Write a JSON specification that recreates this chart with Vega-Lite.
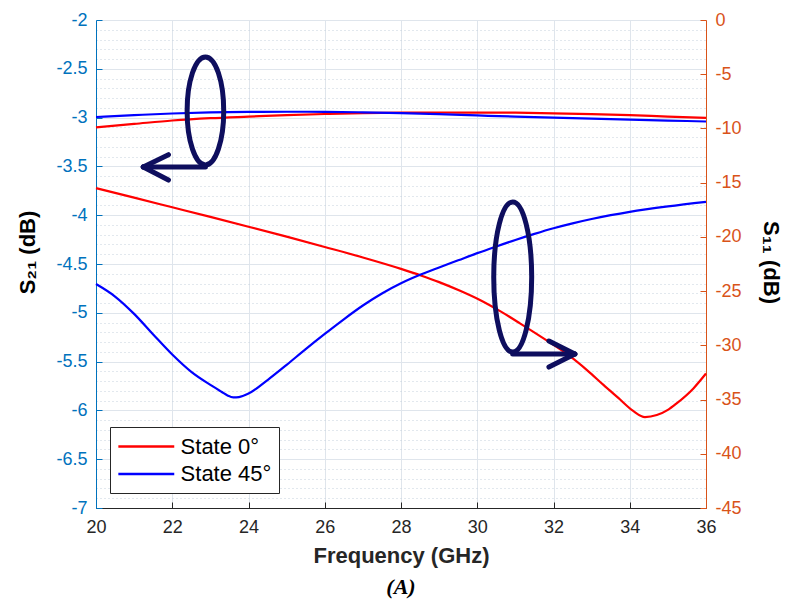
{
  "$schema": "https://vega.github.io/schema/vega-lite/v6.json",
  "width": 610,
  "height": 488,
  "autosize": {"type": "none"},
  "padding": {"left": 96, "top": 20, "right": 79, "bottom": 93},
  "background": "white",
  "config": {
    "font": "Liberation Sans",
    "view": {"stroke": null},
    "axis": {"labelFontSize": 18, "labelFont": "Liberation Sans"}
  },
  "title": {
    "text": "(A)",
    "orient": "bottom",
    "anchor": "middle",
    "font": "Liberation Serif",
    "fontSize": 22,
    "fontStyle": "italic",
    "fontWeight": "bold",
    "color": "#000000",
    "offset": 11
  },
  "datasets": {
    "s21": [
      {"f": 20, "v": -3.10, "state": "State 0°"},
      {"f": 21, "v": -3.065, "state": "State 0°"},
      {"f": 22, "v": -3.03, "state": "State 0°"},
      {"f": 23, "v": -3.006, "state": "State 0°"},
      {"f": 24, "v": -2.99, "state": "State 0°"},
      {"f": 25, "v": -2.975, "state": "State 0°"},
      {"f": 26, "v": -2.963, "state": "State 0°"},
      {"f": 27, "v": -2.954, "state": "State 0°"},
      {"f": 28, "v": -2.95, "state": "State 0°"},
      {"f": 29, "v": -2.948, "state": "State 0°"},
      {"f": 30, "v": -2.948, "state": "State 0°"},
      {"f": 31, "v": -2.95, "state": "State 0°"},
      {"f": 32, "v": -2.957, "state": "State 0°"},
      {"f": 33, "v": -2.965, "state": "State 0°"},
      {"f": 34, "v": -2.975, "state": "State 0°"},
      {"f": 35, "v": -2.99, "state": "State 0°"},
      {"f": 36, "v": -3.003, "state": "State 0°"},
      {"f": 20, "v": -2.994, "state": "State 45°"},
      {"f": 21, "v": -2.975, "state": "State 45°"},
      {"f": 22, "v": -2.958, "state": "State 45°"},
      {"f": 23, "v": -2.947, "state": "State 45°"},
      {"f": 24, "v": -2.942, "state": "State 45°"},
      {"f": 25, "v": -2.94, "state": "State 45°"},
      {"f": 26, "v": -2.941, "state": "State 45°"},
      {"f": 27, "v": -2.946, "state": "State 45°"},
      {"f": 28, "v": -2.955, "state": "State 45°"},
      {"f": 29, "v": -2.965, "state": "State 45°"},
      {"f": 30, "v": -2.978, "state": "State 45°"},
      {"f": 31, "v": -2.99, "state": "State 45°"},
      {"f": 32, "v": -3.0, "state": "State 45°"},
      {"f": 33, "v": -3.01, "state": "State 45°"},
      {"f": 34, "v": -3.02, "state": "State 45°"},
      {"f": 35, "v": -3.03, "state": "State 45°"},
      {"f": 36, "v": -3.04, "state": "State 45°"}
    ],
    "s11": [
      {"f": 20, "v": -15.5, "state": "State 0°"},
      {"f": 21, "v": -16.38, "state": "State 0°"},
      {"f": 22, "v": -17.27, "state": "State 0°"},
      {"f": 23, "v": -18.16, "state": "State 0°"},
      {"f": 24, "v": -19.06, "state": "State 0°"},
      {"f": 25, "v": -19.98, "state": "State 0°"},
      {"f": 26, "v": -20.93, "state": "State 0°"},
      {"f": 27, "v": -21.9, "state": "State 0°"},
      {"f": 28, "v": -22.95, "state": "State 0°"},
      {"f": 28.54, "v": -23.58, "state": "State 0°"},
      {"f": 29, "v": -24.17, "state": "State 0°"},
      {"f": 29.55, "v": -24.97, "state": "State 0°"},
      {"f": 30.07, "v": -25.82, "state": "State 0°"},
      {"f": 30.6, "v": -26.85, "state": "State 0°"},
      {"f": 31.12, "v": -27.97, "state": "State 0°"},
      {"f": 31.8, "v": -29.5, "state": "State 0°"},
      {"f": 32.43, "v": -31.0, "state": "State 0°"},
      {"f": 32.9, "v": -32.35, "state": "State 0°"},
      {"f": 33.31, "v": -33.65, "state": "State 0°"},
      {"f": 33.7, "v": -34.85, "state": "State 0°"},
      {"f": 34.09, "v": -36.05, "state": "State 0°"},
      {"f": 34.4, "v": -36.62, "state": "State 0°"},
      {"f": 34.71, "v": -36.43, "state": "State 0°"},
      {"f": 35.0, "v": -35.95, "state": "State 0°"},
      {"f": 35.23, "v": -35.35, "state": "State 0°"},
      {"f": 35.67, "v": -33.97, "state": "State 0°"},
      {"f": 36, "v": -32.6, "state": "State 0°"},
      {"f": 20, "v": -24.35, "state": "State 45°"},
      {"f": 20.5, "v": -25.5, "state": "State 45°"},
      {"f": 21, "v": -27.1, "state": "State 45°"},
      {"f": 21.5, "v": -29.0, "state": "State 45°"},
      {"f": 22, "v": -30.85, "state": "State 45°"},
      {"f": 22.5, "v": -32.45, "state": "State 45°"},
      {"f": 23, "v": -33.65, "state": "State 45°"},
      {"f": 23.3, "v": -34.3, "state": "State 45°"},
      {"f": 23.45, "v": -34.62, "state": "State 45°"},
      {"f": 23.6, "v": -34.8, "state": "State 45°"},
      {"f": 23.75, "v": -34.77, "state": "State 45°"},
      {"f": 24, "v": -34.45, "state": "State 45°"},
      {"f": 24.5, "v": -33.2, "state": "State 45°"},
      {"f": 25, "v": -31.8, "state": "State 45°"},
      {"f": 25.5, "v": -30.35, "state": "State 45°"},
      {"f": 26, "v": -28.95, "state": "State 45°"},
      {"f": 26.5, "v": -27.6, "state": "State 45°"},
      {"f": 27, "v": -26.33, "state": "State 45°"},
      {"f": 27.5, "v": -25.22, "state": "State 45°"},
      {"f": 28, "v": -24.28, "state": "State 45°"},
      {"f": 28.5, "v": -23.5, "state": "State 45°"},
      {"f": 29, "v": -22.82, "state": "State 45°"},
      {"f": 29.5, "v": -22.16, "state": "State 45°"},
      {"f": 30, "v": -21.5, "state": "State 45°"},
      {"f": 30.5, "v": -20.88, "state": "State 45°"},
      {"f": 31, "v": -20.28, "state": "State 45°"},
      {"f": 31.5, "v": -19.72, "state": "State 45°"},
      {"f": 32, "v": -19.2, "state": "State 45°"},
      {"f": 32.5, "v": -18.75, "state": "State 45°"},
      {"f": 33, "v": -18.35, "state": "State 45°"},
      {"f": 33.5, "v": -18.0, "state": "State 45°"},
      {"f": 34, "v": -17.69, "state": "State 45°"},
      {"f": 35, "v": -17.19, "state": "State 45°"},
      {"f": 36, "v": -16.77, "state": "State 45°"}
    ],
    "ann1e": [{"x": 22.87, "y": -2.932}],
    "ann1s": [
      {"x": 22.87, "x2": 21.24, "y": -3.506, "y2": -3.506},
      {"x": 21.24, "x2": 21.9, "y": -3.506, "y2": -3.38},
      {"x": 21.24, "x2": 21.9, "y": -3.506, "y2": -3.64}
    ],
    "ann2e": [{"x": 30.93, "y": -23.7}],
    "ann2s": [
      {"x": 30.93, "x2": 32.56, "y": -30.8, "y2": -30.8},
      {"x": 32.56, "x2": 31.88, "y": -30.8, "y2": -29.6},
      {"x": 32.56, "x2": 31.88, "y": -30.8, "y2": -32.0}
    ]
  },
  "layer": [
    {
      "data": {"name": "s21"},
      "mark": {"type": "line", "strokeWidth": 2.2, "interpolate": "monotone"},
      "encoding": {
        "x": {
          "field": "f", "type": "quantitative", "title": "Frequency (GHz)",
          "scale": {"domain": [20, 36], "nice": false, "zero": false},
          "axis": {
            "values": [20,20.5,21,21.5,22,22.5,23,23.5,24,24.5,25,25.5,26,26.5,27,27.5,28,28.5,29,29.5,30,30.5,31,31.5,32,32.5,33,33.5,34,34.5,35,35.5,36],
            "labelExpr": "datum.value % 2 == 0 ? '' + datum.value : ''",
            "grid": true,
            "gridColor": {"condition": {"test": "datum.value % 2 == 0", "value": "#dfe5ec"}, "value": "#c5d0dc"},
            "gridDash": {"condition": {"test": "datum.value % 2 == 0", "value": []}, "value": [1, 3]},
            "gridWidth": 1,
            "tickOpacity": {"condition": {"test": "datum.value % 2 == 0", "value": 1}, "value": 0},
            "tickSize": -6,
            "tickColor": "#262626",
            "domainColor": "#262626",
            "labelColor": "#262626",
            "labelFont": "Liberation Sans",
            "labelFontSize": 18,
            "labelPadding": 16,
            "labelOverlap": false,
            "labelFlush": false,
            "title": "Frequency (GHz)",
            "titleFont": "Liberation Sans",
            "titleFontSize": 22,
            "titleFontWeight": "bold",
            "titleColor": "#262626",
            "titlePadding": 9
          }
        },
        "y": {
          "field": "v", "type": "quantitative",
          "scale": {"domain": [-7, -2], "nice": false, "zero": false},
          "axis": {
            "orient": "left",
            "values": [-7,-6.9,-6.8,-6.7,-6.6,-6.5,-6.4,-6.3,-6.2,-6.1,-6,-5.9,-5.8,-5.7,-5.6,-5.5,-5.4,-5.3,-5.2,-5.1,-5,-4.9,-4.8,-4.7,-4.6,-4.5,-4.4,-4.3,-4.2,-4.1,-4,-3.9,-3.8,-3.7,-3.6,-3.5,-3.4,-3.3,-3.2,-3.1,-3,-2.9,-2.8,-2.7,-2.6,-2.5,-2.4,-2.3,-2.2,-2.1,-2],
            "labelExpr": "abs(datum.value * 2 - round(datum.value * 2)) < 0.001 ? '' + datum.value : ''",
            "grid": true,
            "gridColor": {"condition": {"test": "abs(datum.value * 2 - round(datum.value * 2)) < 0.001", "value": "#dfe5ec"}, "value": "#c5d0dc"},
            "gridDash": {"condition": {"test": "abs(datum.value * 2 - round(datum.value * 2)) < 0.001", "value": []}, "value": [1, 3]},
            "gridWidth": 1,
            "tickOpacity": {"condition": {"test": "abs(datum.value * 2 - round(datum.value * 2)) < 0.001", "value": 1}, "value": 0},
            "tickSize": -6,
            "tickColor": "#0072BD",
            "domainColor": "#0072BD",
            "labelColor": "#0072BD",
            "labelFont": "Liberation Sans",
            "labelFontSize": 18,
            "labelPadding": 15,
            "labelOverlap": false,
            "labelFlush": false,
            "title": "S₂₁ (dB)",
            "titleFont": "Liberation Sans",
            "titleFontSize": 22,
            "titleFontWeight": "bold",
            "titleColor": "#000000",
            "titleAngle": 270,
            "titleAlign": "center",
            "titleBaseline": "middle",
            "titleX": -69,
            "titleY": 232
          }
        },
        "color": {
          "field": "state", "type": "nominal",
          "scale": {"domain": ["State 0°", "State 45°"], "range": ["#ff0000", "#0000ff"]},
          "legend": {
            "title": null,
            "orient": "none",
            "legendX": 14,
            "legendY": 407,
            "direction": "vertical",
            "fillColor": "#ffffff",
            "strokeColor": "#262626",
            "padding": 7,
            "rowPadding": 3.6,
            "symbolType": "M-2.5,0H2.5",
            "symbolSize": 500,
            "symbolOffset": 16.8,
            "symbolStrokeWidth": 2.5,
            "labelFont": "Liberation Sans",
            "labelFontSize": 22,
            "labelColor": "#000000",
            "labelOffset": 21.8
          }
        }
      }
    },
    {
      "data": {"name": "ann1e"},
      "mark": {
        "type": "point",
        "shape": "M0,-1C0.187,-1 0.339,-0.552 0.339,0C0.339,0.552 0.187,1 0,1C-0.187,1 -0.339,0.552 -0.339,0C-0.339,-0.552 -0.187,-1 0,-1Z",
        "size": 11664,
        "filled": false,
        "stroke": "#0e0e5e",
        "strokeWidth": 5,
        "opacity": 1
      },
      "encoding": {
        "x": {"field": "x", "type": "quantitative", "title": "Frequency (GHz)", "scale": {"domain": [20, 36], "nice": false, "zero": false}},
        "y": {"field": "y", "type": "quantitative", "scale": {"domain": [-7, -2], "nice": false, "zero": false}, "axis": null}
      }
    },
    {
      "data": {"name": "ann1s"},
      "mark": {"type": "rule", "stroke": "#0e0e5e", "strokeWidth": 5, "strokeCap": "round"},
      "encoding": {
        "x": {"field": "x", "type": "quantitative", "title": "Frequency (GHz)", "scale": {"domain": [20, 36], "nice": false, "zero": false}},
        "x2": {"field": "x2"},
        "y": {"field": "y", "type": "quantitative", "scale": {"domain": [-7, -2], "nice": false, "zero": false}, "axis": null},
        "y2": {"field": "y2"}
      }
    },
    {
      "data": {"name": "s11"},
      "mark": {"type": "line", "strokeWidth": 2.2, "interpolate": "monotone"},
      "encoding": {
        "x": {"field": "f", "type": "quantitative", "title": "Frequency (GHz)", "scale": {"domain": [20, 36], "nice": false, "zero": false}},
        "y": {
          "field": "v", "type": "quantitative",
          "scale": {"domain": [-45, 0], "nice": false, "zero": false},
          "axis": {
            "orient": "right",
            "values": [-45,-40,-35,-30,-25,-20,-15,-10,-5,0],
            "labelExpr": "'' + datum.value",
            "grid": false,
            "tickSize": -6,
            "tickColor": "#D95319",
            "domainColor": "#D95319",
            "labelColor": "#D95319",
            "labelFont": "Liberation Sans",
            "labelFontSize": 18,
            "labelPadding": 15,
            "labelOverlap": false,
            "labelFlush": false,
            "title": "S₁₁ (dB)",
            "titleFont": "Liberation Sans",
            "titleFontSize": 22,
            "titleFontWeight": "bold",
            "titleColor": "#000000",
            "titleAngle": 90,
            "titleAlign": "center",
            "titleBaseline": "middle",
            "titleX": 64,
            "titleY": 242
          }
        },
        "color": {
          "field": "state", "type": "nominal",
          "scale": {"domain": ["State 0°", "State 45°"], "range": ["#ff0000", "#0000ff"]}
        }
      }
    },
    {
      "data": {"name": "ann2e"},
      "mark": {
        "type": "point",
        "shape": "M0,-1C0.14,-1 0.253,-0.552 0.253,0C0.253,0.552 0.14,1 0,1C-0.14,1 -0.253,0.552 -0.253,0C-0.253,-0.552 -0.14,-1 0,-1Z",
        "size": 22500,
        "filled": false,
        "stroke": "#0e0e5e",
        "strokeWidth": 5,
        "opacity": 1
      },
      "encoding": {
        "x": {"field": "x", "type": "quantitative", "title": "Frequency (GHz)", "scale": {"domain": [20, 36], "nice": false, "zero": false}},
        "y": {"field": "y", "type": "quantitative", "scale": {"domain": [-45, 0], "nice": false, "zero": false}, "axis": null}
      }
    },
    {
      "data": {"name": "ann2s"},
      "mark": {"type": "rule", "stroke": "#0e0e5e", "strokeWidth": 5, "strokeCap": "round"},
      "encoding": {
        "x": {"field": "x", "type": "quantitative", "title": "Frequency (GHz)", "scale": {"domain": [20, 36], "nice": false, "zero": false}},
        "x2": {"field": "x2"},
        "y": {"field": "y", "type": "quantitative", "scale": {"domain": [-45, 0], "nice": false, "zero": false}, "axis": null},
        "y2": {"field": "y2"}
      }
    }
  ],
  "resolve": {"scale": {"y": "independent"}}
}
